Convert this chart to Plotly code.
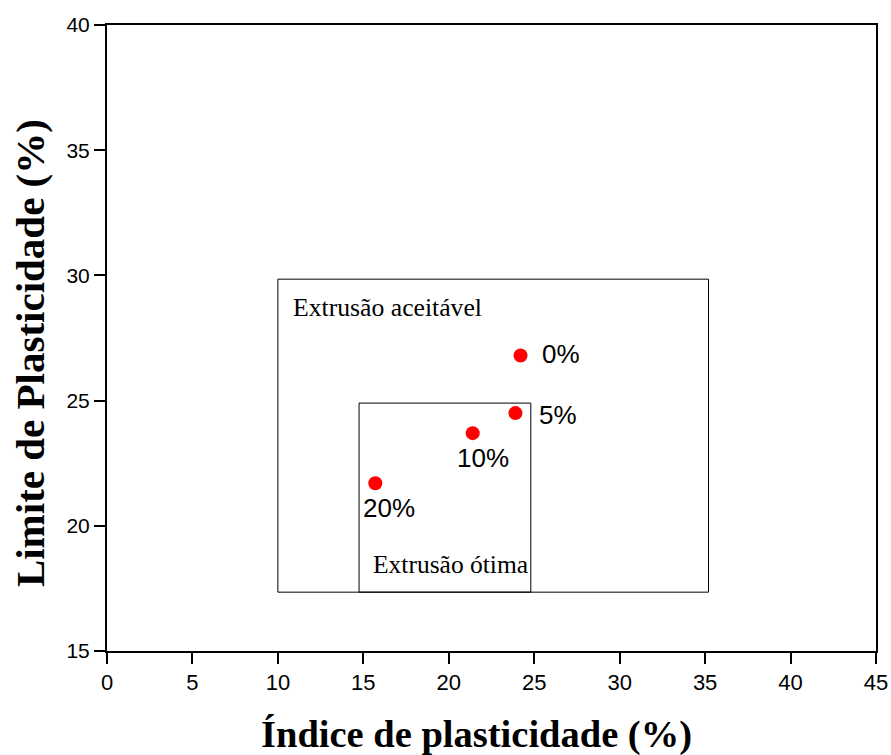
import plotly.graph_objects as go

# Plasticity data for each residue content
teor = ["0%", "5%", "10%", "20%"]
indice_plasticidade = [24.2, 23.9, 21.4, 15.7]
limite_plasticidade = [26.8, 24.5, 23.7, 21.7]

# Label placement relative to each marker: (xanchor, yanchor, xshift, yshift)
label_place = [
    ("left", "middle", 19, 2),
    ("left", "middle", 22, -2),
    ("center", "top", 10, -8),
    ("center", "top", 14, -8),
]

# Extrusion zones: (x0, x1, y0, y1)
zona_aceitavel = (10.0, 35.2, 17.35, 29.85)
zona_otima = (14.75, 24.8, 17.35, 24.9)

x_ticks = [0, 5, 10, 15, 20, 25, 30, 35, 40, 45]
y_ticks = [15, 20, 25, 30, 35, 40]

sans = "Liberation Sans, Arial"
serif = "Liberation Serif, Times New Roman"

fig = go.Figure()

fig.add_trace(go.Scatter(
    x=indice_plasticidade,
    y=limite_plasticidade,
    mode="markers",
    marker=dict(color="#ff0000", size=14, line=dict(width=0)),
    showlegend=False,
    cliponaxis=False,
))

for t, xv, yv, (xa, ya, dx, dy) in zip(teor, indice_plasticidade, limite_plasticidade, label_place):
    fig.add_annotation(x=xv, y=yv, xref="x", yref="y", text=t, showarrow=False,
                       xanchor=xa, yanchor=ya, xshift=dx, yshift=dy,
                       font=dict(family=sans, size=26, color="black"))

for x0, x1, y0, y1 in (zona_aceitavel, zona_otima):
    fig.add_shape(type="rect", xref="x", yref="y", x0=x0, x1=x1, y0=y0, y1=y1,
                  line=dict(color="black", width=1), fillcolor="rgba(0,0,0,0)")

fig.add_annotation(x=zona_aceitavel[0], y=zona_aceitavel[3], xref="x", yref="y",
                   text="Extrusão aceitável", showarrow=False, xanchor="left", yanchor="middle",
                   xshift=13, yshift=-28,
                   font=dict(family=serif, size=25.7, color="black"))
fig.add_annotation(x=zona_otima[0], y=zona_otima[2], xref="x", yref="y",
                   text="Extrusão ótima", showarrow=False, xanchor="left", yanchor="middle",
                   xshift=12, yshift=28,
                   font=dict(family=serif, size=25.5, color="black"))

# Axis titles
fig.add_annotation(xref="paper", yref="paper", x=0.481, y=-0.134,
                   text="<b>Índice de plasticidade (%)</b>", showarrow=False,
                   xanchor="center", yanchor="middle",
                   font=dict(family=serif, size=38.5, color="black"))
fig.add_annotation(xref="paper", yref="paper", x=-0.1, y=0.476, textangle=-90,
                   text="<b>Limite de Plasticidade (%)</b>", showarrow=False,
                   xanchor="center", yanchor="middle",
                   font=dict(family=serif, size=41, color="black"))

axis_common = dict(
    showgrid=False, zeroline=False, showline=True, linecolor="black", linewidth=2,
    mirror=True, ticks="outside", ticklen=11, tickwidth=2, tickcolor="black",
    automargin=False,
)

fig.update_xaxes(range=[0, 45], tickvals=x_ticks, **axis_common,
                 tickfont=dict(family=sans, size=22, color="black"))
fig.update_yaxes(range=[15, 40], tickvals=y_ticks, **axis_common,
                 tickfont=dict(family=sans, size=21, color="black"))

fig.update_layout(
    width=891, height=755,
    margin=dict(l=107, r=15, t=25, b=104),
    plot_bgcolor="white", paper_bgcolor="white",
)

fig.write_html("out.html")
